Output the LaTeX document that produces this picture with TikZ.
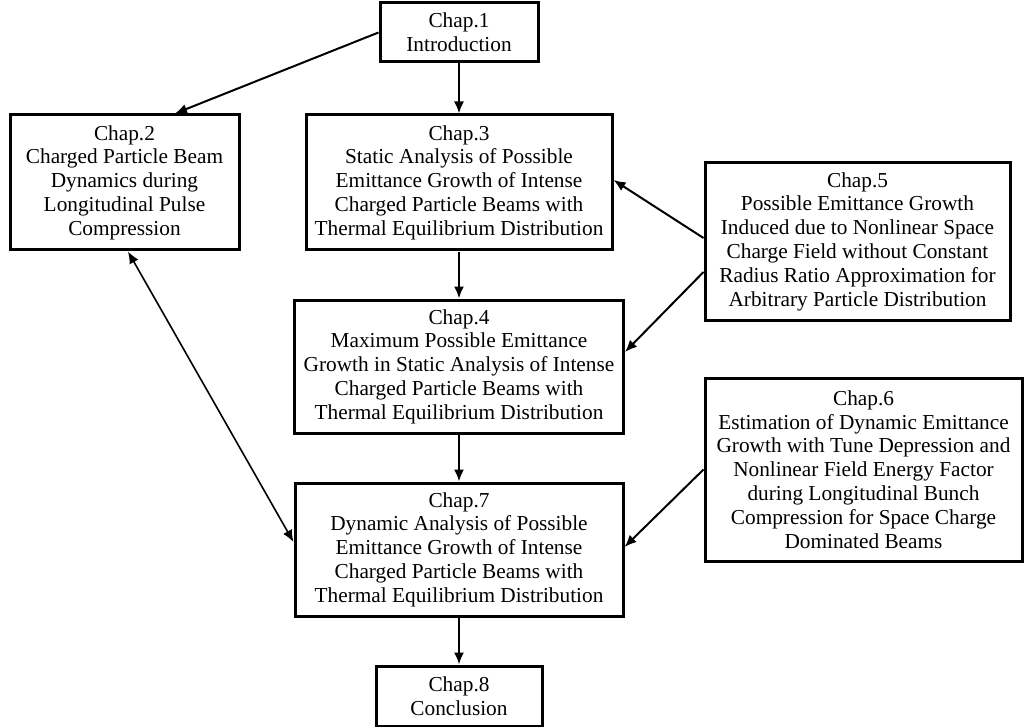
\documentclass[tikz,border=0pt]{standalone}
\usepackage{fontspec}
\setmainfont{Liberation Serif}
\usetikzlibrary{arrows.meta,calc}
\tikzset{
  box/.style={draw, line width=3pt, inner sep=0pt, align=center,
    font=\fontsize{21.3}{23.8}\selectfont},
  arr/.style={line width=2pt, -{Latex[length=12pt,width=10pt]}},
  darr/.style={line width=1.6pt, {Latex[length=12pt,width=10pt]}-{Latex[length=12pt,width=10pt]}}
}
\begin{document}
\begin{tikzpicture}[x=1pt,y=-1pt]
\useasboundingbox (0,0) rectangle (1027,727);
\node[box, minimum width=158pt, minimum height=59pt] (b1) at (459,32.5) {Chap.1\\Introduction};
\node[box, minimum width=229pt, minimum height=135pt] (b2) at (124.5,182.5) {Chap.2\\Charged Particle Beam\\Dynamics during\\Longitudinal Pulse\\Compression};
\node[box, minimum width=306pt, minimum height=135pt] (b3) at (459,182.5) {Chap.3\\Static Analysis of Possible\\Emittance Growth of Intense\\Charged Particle Beams with\\Thermal Equilibrium Distribution};
\node[box, minimum width=329pt, minimum height=133pt] (b4) at (459,366.5) {Chap.4\\Maximum Possible Emittance\\Growth in Static Analysis of Intense\\Charged Particle Beams with\\Thermal Equilibrium Distribution};
\node[box, minimum width=305pt, minimum height=157pt] (b5) at (857.5,241.5) {Chap.5\\Possible Emittance Growth\\Induced due to Nonlinear Space\\Charge Field without Constant\\Radius Ratio Approximation for\\Arbitrary Particle Distribution};
\node[box, minimum width=317pt, minimum height=183pt] (b6) at (863.5,469.5) {Chap.6\\Estimation of Dynamic Emittance\\Growth with Tune Depression and\\Nonlinear Field Energy Factor\\during Longitudinal Bunch\\Compression for Space Charge\\Dominated Beams};
\node[box, minimum width=328pt, minimum height=133pt] (b7) at (459,549.5) {Chap.7\\Dynamic Analysis of Possible\\Emittance Growth of Intense\\Charged Particle Beams with\\Thermal Equilibrium Distribution};
\node[box, minimum width=166pt, minimum height=60pt] (b8) at (459,696) {Chap.8\\Conclusion};

\draw[arr] (b1.west) -- ($(b2.north)+(50.5,0)$);
\draw[arr] (b1.south) -- (b3.north);
\draw[arr] (b3.south) -- (b4.north);
\draw[arr] (b4.south) -- (b7.north);
\draw[arr] (b7.south) -- (b8.north);
\draw[arr] ($(b5.west)+(0,-3.5)$) -- ($(b3.east)+(0,-2.5)$);
\draw[arr] ($(b5.west)+(0,30.5)$) -- ($(b4.east)+(0,-14.5)$);
\draw[arr] (b6.west) -- ($(b7.east)+(0,-2.5)$);
\draw[darr] ($(b2.south)+(3.5,0)$) -- ($(b7.west)+(0,-7.5)$);
\end{tikzpicture}
\end{document}
